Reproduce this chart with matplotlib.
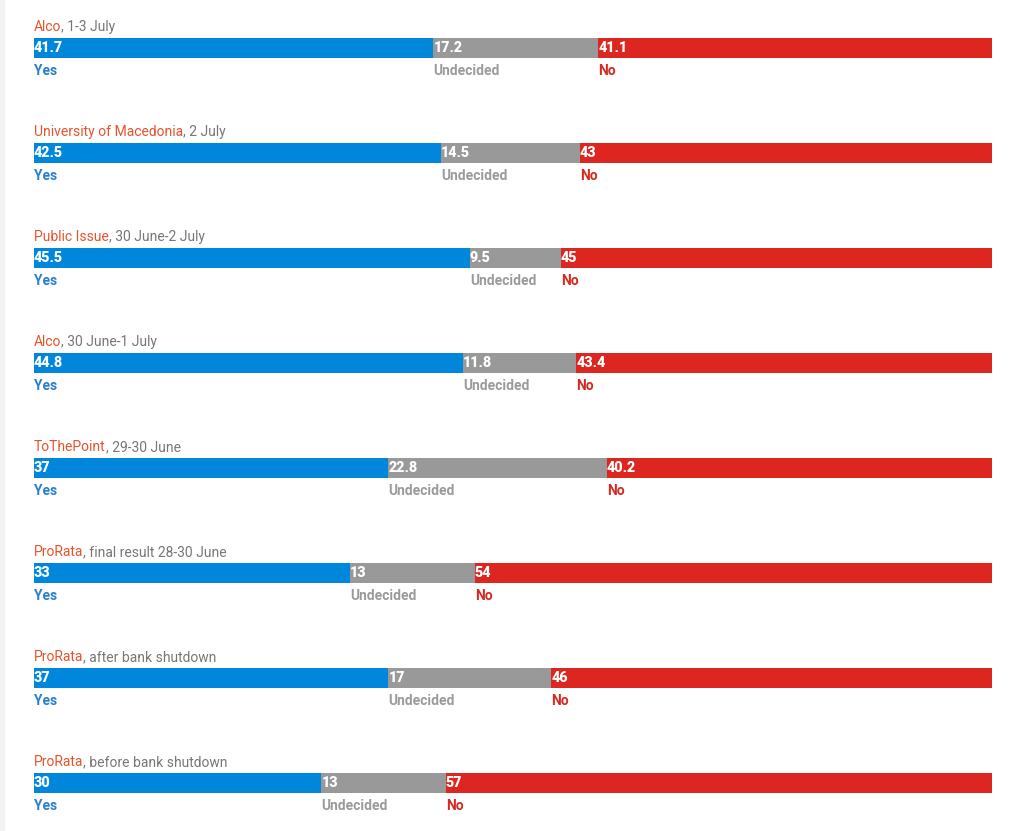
import numpy as np
import matplotlib.pyplot as plt
from matplotlib.patches import Rectangle

plt.rcParams['font.family'] = ['Roboto', 'DejaVu Sans']

# ===== DATA =====
pollsters = ["Alco", "University of Macedonia", "Public Issue", "Alco",
             "ToThePoint", "ProRata", "ProRata", "ProRata"]
dates = ["1-3 July", "2 July", "30 June-2 July", "30 June-1 July",
         "29-30 June", "final result 28-30 June", "after bank shutdown",
         "before bank shutdown"]
yes = [41.7, 42.5, 45.5, 44.8, 37, 33, 37, 30]
undecided = [17.2, 14.5, 9.5, 11.8, 22.8, 13, 17, 13]
no = [41.1, 43, 45, 43.4, 40.2, 54, 46, 57]
segment_names = ["Yes", "Undecided", "No"]

# ===== STYLE =====
bar_colors = ["#0086db", "#999999", "#dd2620"]
label_colors = ["#2a7fcc", "#9a9a9a", "#d42a20"]
title_color = "#e5532d"
date_color = "#777777"

fig = plt.figure(figsize=(10.26, 8.31), dpi=100)
fig.patches.append(Rectangle((0, 0), 4 / 1026, 1, transform=fig.transFigure,
                             color="#f2f2f2", zorder=0))
ax = fig.add_axes([34 / 1026, 0, (992 - 34) / 1026, 1])
ax.set_xlim(0, 100)
ax.set_ylim(7.457, -0.457)
ax.axis("off")

y = np.arange(len(pollsters))
series = [np.array(yes), np.array(undecided), np.array(no)]
left = np.zeros(len(pollsters))

for s, vals in enumerate(series):
    ax.barh(y, vals, left=left, height=0.19, color=bar_colors[s], linewidth=0)
    for i in range(len(y)):
        ax.text(left[i], y[i], f"{vals[i]:g}", color="white", fontsize=10.3,
                fontweight="heavy", ha="left", va="center")
        ax.text(left[i], y[i] + 0.215, segment_names[s], color=label_colors[s],
                fontsize=10, fontweight="bold", ha="left", va="center")
    left = left + vals

# titles: pollster in orange, date in gray
for i in range(len(y)):
    t1 = ax.text(0, y[i] - 0.13, pollsters[i], color=title_color,
                 fontsize=10, ha="left", va="bottom")
    ax.annotate(", " + dates[i], xy=(1, 0), xycoords=t1, color=date_color,
                fontsize=10, ha="left", va="bottom")

fig.savefig("out.png", dpi=100)
